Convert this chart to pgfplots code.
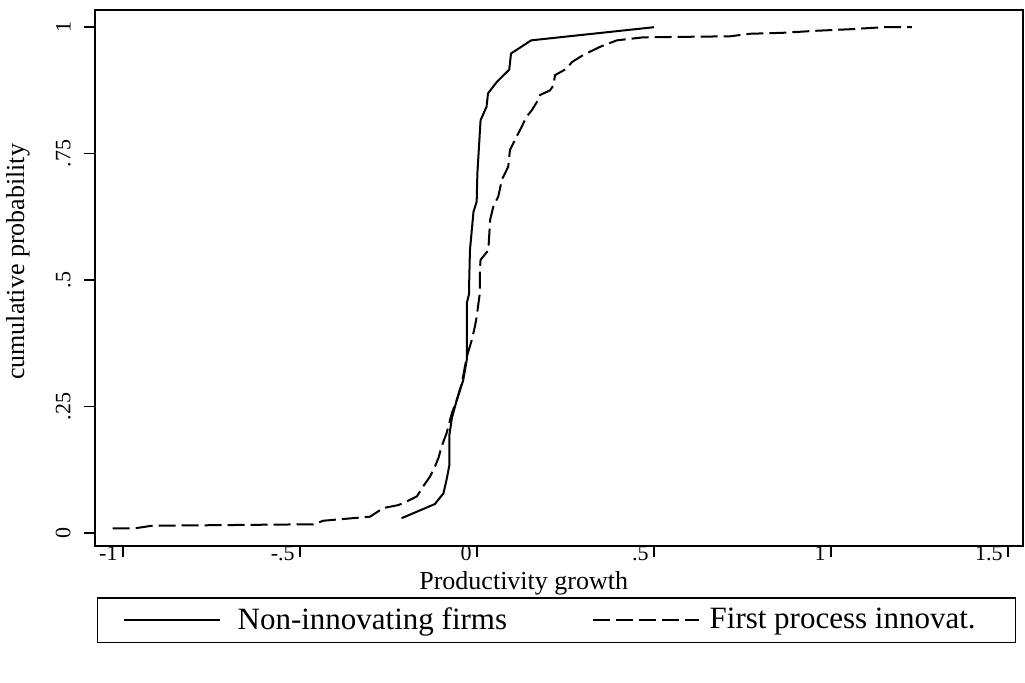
\documentclass[border=0pt]{standalone}
\usepackage{pgfplots}
\pgfplotsset{compat=1.18}
\usepackage{fontspec}
\setmainfont{Liberation Serif}
\begin{document}
\begin{tikzpicture}
\begin{axis}[
  at={(0,0)}, anchor=south west,
  scale only axis, width=464pt, height=268pt,
  xmin=-1.079, xmax=1.542, ymin=-0.026, ymax=1.034,
  axis line style={line width=1pt},
  xtick={-1,-0.5,0,0.5,1,1.5}, xticklabels={-1,-.5,0,.5,1,1.5},
  ytick={0,0.25,0.5,0.75,1}, yticklabels={0,.25,.5,.75,1},
  tick align=outside, tick pos=left,
  major tick length=5.5pt,
  tick style={line width=0.8pt, black},
  ticklabel style={font=\fontsize{11}{13}\selectfont, inner sep=0pt},
  yticklabel style={xshift=-6.5pt, rotate=90, anchor=south},
  xticklabel style={anchor=east, xshift=-2.5pt, yshift=2pt},
  xlabel={Productivity growth},
  xlabel style={at={(axis description cs:0.462,-0.069)}, anchor=center, font=\fontsize{13}{15}\selectfont},
  ylabel={cumulative probability},
  ylabel style={at={(axis description cs:-0.083,0.53)}, anchor=center, font=\fontsize{13}{15}\selectfont},
  legend style={at={(axis description cs:0.002,-0.0951)}, anchor=north west,
    draw=black, line width=0.8pt, inner xsep=0pt, inner ysep=3pt,
    font=\fontsize{15.5}{17}\selectfont,
    nodes={inner xsep=0pt, inner ysep=2pt, line width=1pt},
    column sep=0pt, legend columns=2},
  legend cell align=left,
]
\addplot[black, line width=1pt,
  legend image code/.code={\path (0pt,0pt) (69pt,0pt); \draw[black, line width=1pt] (12.5pt,0pt)--(60.5pt,0pt);}]
  coordinates {
(-0.213,0.029) (-0.119,0.057) (-0.095,0.078) (-0.086,0.105) (-0.078,0.134)
(-0.078,0.194) (-0.071,0.227) (-0.057,0.263) (-0.039,0.302) (-0.029,0.342)
(-0.029,0.454) (-0.022,0.474) (-0.022,0.500) (-0.020,0.559) (-0.010,0.635)
(-0.001,0.655) (0.001,0.711) (0.010,0.816) (0.027,0.843) (0.031,0.869)
(0.056,0.892) (0.091,0.916) (0.096,0.948) (0.153,0.974) (0.500,1.000)
};
\addlegendentry{\makebox[177pt][l]{Non-innovating firms}}
\addplot[black, line width=1pt, dash pattern=on 8.5pt off 3pt,
  legend image code/.code={\path (0pt,0pt) (58pt,0pt); \draw[black, line width=1pt, dash pattern=on 8.5pt off 3pt] (0pt,0pt)--(53pt,0pt);}]
  coordinates {
(-1.029,0.009) (-0.966,0.009) (-0.919,0.014) (-0.462,0.017) (-0.434,0.024)
(-0.302,0.032) (-0.265,0.049) (-0.222,0.055) (-0.199,0.062) (-0.170,0.072)
(-0.152,0.092) (-0.133,0.111) (-0.119,0.131) (-0.109,0.148) (-0.100,0.171)
(-0.086,0.197) (-0.071,0.237) (-0.057,0.263) (-0.043,0.296) (-0.029,0.348)
(-0.015,0.381) (-0.006,0.408) (-0.001,0.427) (0.004,0.454) (0.008,0.474)
(0.008,0.520) (0.010,0.540) (0.032,0.559) (0.037,0.619) (0.046,0.645)
(0.060,0.665) (0.070,0.698) (0.088,0.724) (0.093,0.757) (0.107,0.777)
(0.121,0.796) (0.140,0.823) (0.155,0.836) (0.169,0.852) (0.178,0.866)
(0.206,0.875) (0.216,0.885) (0.220,0.905) (0.253,0.918) (0.268,0.931)
(0.300,0.945) (0.347,0.961) (0.395,0.974) (0.470,0.980) (0.715,0.982)
(0.771,0.987) (0.866,0.989) (0.960,0.993) (1.054,0.996) (1.148,1.000)
(1.228,1.000)
};
\addlegendentry{\makebox[153pt][l]{First process innovat.}}
\end{axis}
\pgfresetboundingbox
\useasboundingbox (-47.5pt,-68pt) rectangle (465pt,273pt);
\end{tikzpicture}
\end{document}
